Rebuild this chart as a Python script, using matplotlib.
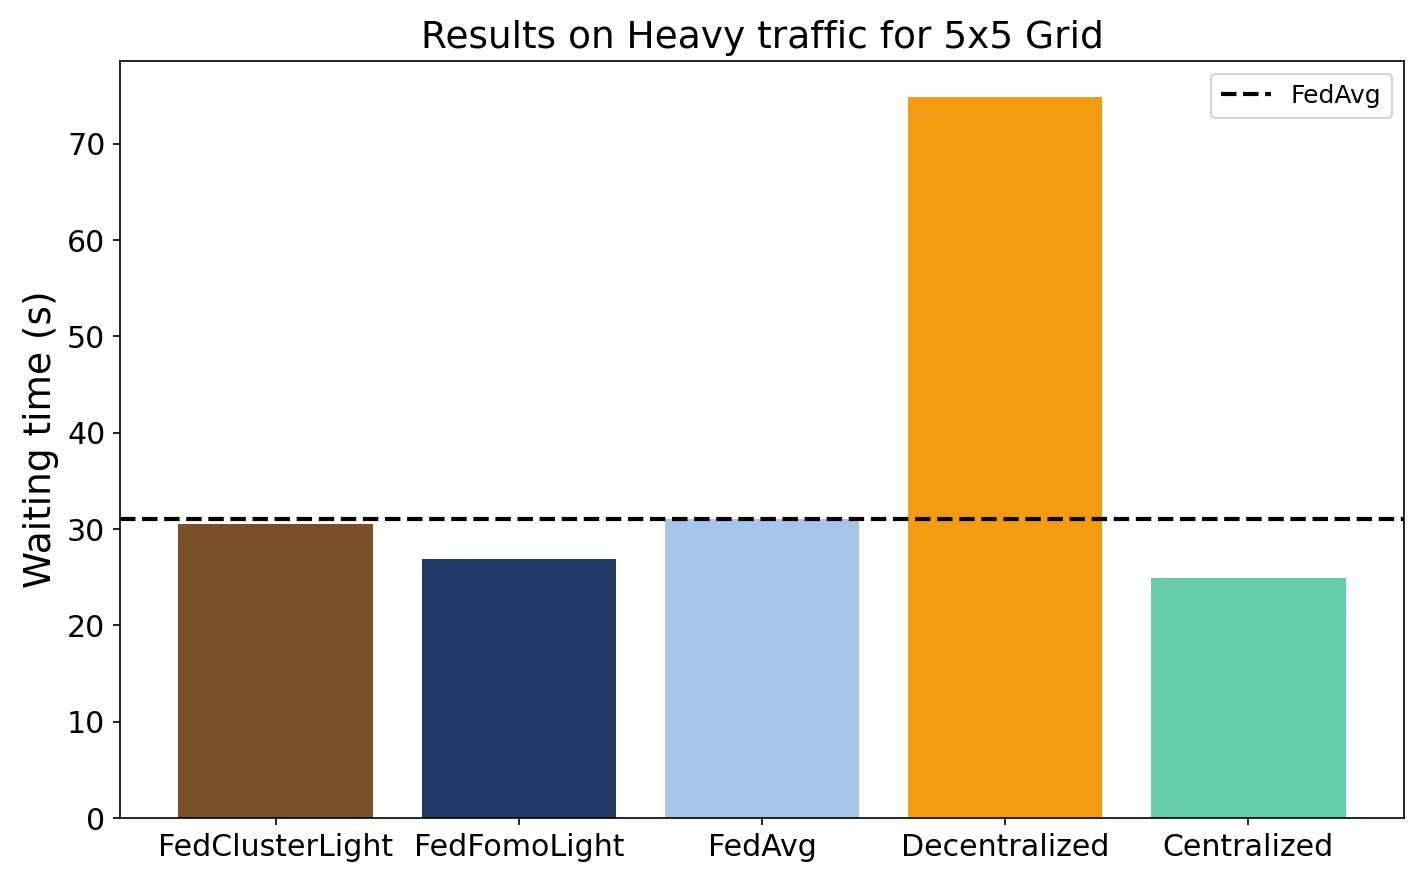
import matplotlib
matplotlib.use("Agg")
import matplotlib.pyplot as plt

# values
methods = ["FedClusterLight", "FedFomoLight", "FedAvg", "Decentralized", "Centralized"]
waiting_time = [30.5, 26.9, 31.05, 74.85, 24.9]
fedavg_baseline = 31.05
bar_colors = ["#7B4F25", "#203A67", "#A3C6E9", "#F39C12", "#66CDAA"]


def main():
    fig, ax = plt.subplots(figsize=(9.48, 5.88), dpi=150)
    fig.subplots_adjust(left=120 / 1422, right=1404 / 1422, bottom=64 / 882, top=821 / 882)

    ax.bar(methods, waiting_time, color=bar_colors, width=0.8)
    ax.axhline(fedavg_baseline, color="black", linestyle="--", linewidth=2, label="FedAvg")

    ax.set_title("Results on Heavy traffic for 5x5 Grid", fontsize=18)
    ax.set_ylabel("Waiting time (s)", fontsize=18)
    ax.tick_params(axis="both", labelsize=14.4)
    ax.legend(loc="upper right", fontsize=12)

    fig.savefig("out.png", dpi=150)


if __name__ == "__main__":
    main()
